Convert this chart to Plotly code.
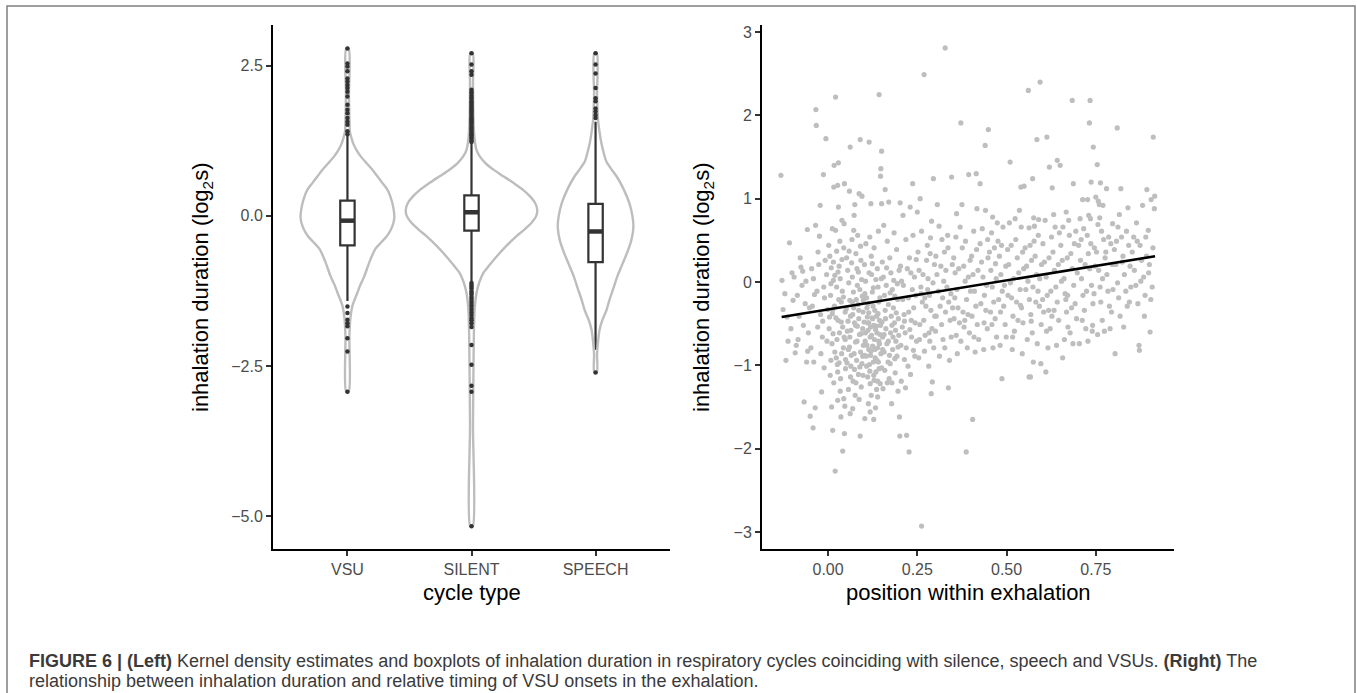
import plotly.graph_objects as go

W, H = 1357, 693

# ---------------- LEFT PANEL DATA ----------------
cycle_types = ["VSU", "SILENT", "SPEECH"]
cat_pos = [1, 2, 3]

# boxplot statistics (inhalation duration, log2 s)
box_q1 = [-0.49, -0.245, -0.77]
box_median = [-0.08, 0.06, -0.26]
box_q3 = [0.255, 0.34, 0.20]
box_lower = [-1.42, -1.09, -2.23]
box_upper = [1.33, 1.20, 1.57]

# outlying points per cycle type
vsu_outliers = [2.79, 2.54, 2.49, 2.41, 2.29, 2.24, 2.18, 2.13, 2.07, 1.99, 1.85, 1.77,
                1.71, 1.63, 1.57, 1.52, 1.41, 1.36, -1.51, -1.62, -1.73, -1.79, -1.84,
                -2.04, -2.26, -2.93]
silent_outliers = [2.71, 2.52, 2.41, 2.35, 2.10, 2.06, 2.02, 1.98, 1.95, 1.91, 1.88, 1.85,
                   1.82, 1.79, 1.76, 1.73, 1.70, 1.67, 1.64, 1.61, 1.59, 1.56, 1.53, 1.50,
                   1.47, 1.45, 1.42, 1.39, 1.36, 1.34, 1.31, 1.28, 1.25, 1.23,
                   -1.12, -1.15, -1.18, -1.21, -1.25, -1.28, -1.31, -1.35, -1.38, -1.42,
                   -1.45, -1.49, -1.53, -1.57, -1.61, -1.65, -1.70, -1.74, -1.79, -1.85,
                   -2.15, -2.48, -2.83, -2.93, -5.17]
speech_outliers = [2.71, 2.52, 2.37, 2.13, 1.96, 1.91, 1.79, 1.74, 1.68, 1.63, -2.61]

# kernel density outlines: y level and half width (in category units)
vsu_violin_y = [2.79, 2.0, 1.6, 1.4, 1.3, 1.2, 1.1, 1.0, 0.88, 0.77, 0.66, 0.55, 0.44,
                0.33, 0.15, -0.03, -0.18, -0.33, -0.44, -0.55, -0.77, -1.0, -1.15, -1.28,
                -1.5, -1.7, -2.0, -2.93]
vsu_violin_hw = [0.010, 0.012, 0.016, 0.020, 0.032, 0.048, 0.072, 0.104, 0.153, 0.201,
                 0.241, 0.281, 0.321, 0.345, 0.369, 0.378, 0.361, 0.321, 0.273, 0.225,
                 0.177, 0.137, 0.104, 0.080, 0.040, 0.024, 0.016, 0.010]
silent_violin_y = [2.71, 2.2, 1.6, 1.3, 1.1, 1.0, 0.88, 0.77, 0.66, 0.55, 0.43, 0.32,
                   0.21, 0.10, 0.0, -0.12, -0.23, -0.34, -0.5, -0.68, -0.82, -0.95, -1.1,
                   -1.29, -1.6, -2.5, -3.5, -5.17]
silent_violin_hw = [0.010, 0.012, 0.016, 0.024, 0.040, 0.064, 0.112, 0.177, 0.257, 0.337,
                    0.418, 0.474, 0.514, 0.530, 0.522, 0.482, 0.426, 0.361, 0.281, 0.201,
                    0.145, 0.096, 0.064, 0.040, 0.024, 0.016, 0.012, 0.010]
speech_violin_y = [2.71, 2.0, 1.6, 1.4, 1.2, 1.0, 0.9, 0.8, 0.66, 0.45, 0.21, 0.0, -0.18,
                   -0.4, -0.6, -0.8, -1.0, -1.2, -1.4, -1.57, -1.73, -1.9, -2.1, -2.3, -2.61]
speech_violin_hw = [0.010, 0.012, 0.020, 0.032, 0.048, 0.072, 0.088, 0.120, 0.169, 0.225,
                    0.273, 0.297, 0.305, 0.289, 0.257, 0.217, 0.177, 0.145, 0.112, 0.088,
                    0.056, 0.032, 0.020, 0.012, 0.010]

# ---------------- RIGHT PANEL DATA ----------------
pos_x = [
    -0.132, -0.118, -0.126, -0.108, -0.104, -0.121, -0.101, -0.112, -0.129, -0.115,
    -0.092, -0.089, -0.084, -0.076, -0.071, -0.067, -0.064, -0.060, -0.058, -0.081,
    -0.073, -0.055, -0.062, -0.086, -0.052, -0.095, -0.069, -0.078, -0.057, -0.098,
    -0.050, -0.036, -0.042, -0.040, -0.034, -0.033, -0.035, -0.022, -0.018, -0.013,
    -0.011, -0.006, -0.046, -0.041, -0.031, -0.026, -0.021, -0.016, -0.048, -0.029,
    -0.008, -0.010, -0.004, -0.044, -0.028, -0.020, -0.038, -0.012, -0.003, -0.024,
    -0.015, -0.001,
    0.010, 0.013, 0.020, 0.036, 0.041, 0.046, 0.044, 0.047, 0.021, 0.017,
    0.029, 0.016, 0.027, 0.046, 0.029, 0.012, 0.021, 0.039, 0.045, 0.005,
    0.009, 0.015, 0.019, 0.024, 0.031, 0.034, 0.040, 0.007, 0.018, 0.028,
    0.037, 0.048, 0.003, 0.011, 0.023, 0.032, 0.043, 0.049, 0.006, 0.016,
    0.026, 0.035, 0.044, 0.033, 0.002, 0.024, 0.014, 0.041, 0.030, 0.008,
    0.048, 0.034, 0.022, 0.038, 0.012, 0.027,
    0.062, 0.060, 0.075, 0.073, 0.087, 0.095, 0.090, 0.069, 0.090, 0.052,
    0.055, 0.058, 0.061, 0.063, 0.066, 0.068, 0.071, 0.072, 0.074, 0.077,
    0.078, 0.081, 0.082, 0.084, 0.086, 0.088, 0.091, 0.092, 0.094, 0.096,
    0.098, 0.054, 0.057, 0.064, 0.070, 0.076, 0.080, 0.085, 0.093, 0.097,
    0.053, 0.067, 0.083, 0.091, 0.099, 0.057, 0.087, 0.072, 0.079, 0.061,
    0.065, 0.089, 0.074, 0.082, 0.095, 0.059, 0.069, 0.085, 0.078, 0.063,
    0.103, 0.128, 0.115, 0.143, 0.150, 0.148, 0.147, 0.120, 0.150, 0.102,
    0.105, 0.108, 0.110, 0.112, 0.114, 0.116, 0.118, 0.121, 0.122, 0.124,
    0.126, 0.128, 0.130, 0.132, 0.134, 0.136, 0.138, 0.140, 0.142, 0.144,
    0.146, 0.148, 0.104, 0.107, 0.113, 0.119, 0.125, 0.131, 0.137, 0.143,
    0.149, 0.106, 0.117, 0.129, 0.141, 0.133, 0.121, 0.111, 0.139, 0.109,
    0.127, 0.145, 0.115, 0.101, 0.123, 0.135, 0.118, 0.129, 0.140, 0.112,
    0.146, 0.124, 0.108, 0.134, 0.119, 0.142, 0.103, 0.127, 0.137, 0.114,
    0.160, 0.170, 0.152, 0.155, 0.158, 0.160, 0.162, 0.165, 0.168, 0.171,
    0.173, 0.176, 0.180, 0.183, 0.186, 0.190, 0.193, 0.196, 0.199, 0.154,
    0.178, 0.188, 0.166, 0.185, 0.195, 0.157, 0.175, 0.192, 0.163, 0.181,
    0.197, 0.151, 0.169, 0.177, 0.184, 0.159, 0.172, 0.189, 0.164, 0.194,
    0.156, 0.179, 0.187, 0.153, 0.174, 0.198,
    0.200, 0.201, 0.220, 0.227, 0.202, 0.210, 0.230, 0.237, 0.250, 0.203,
    0.206, 0.209, 0.213, 0.216, 0.219, 0.224, 0.228, 0.232, 0.236, 0.240,
    0.244, 0.248, 0.205, 0.218, 0.238, 0.226, 0.242, 0.208, 0.246, 0.231,
    0.214, 0.234, 0.222, 0.211, 0.247, 0.239, 0.225, 0.204, 0.233, 0.217,
    0.258, 0.269, 0.262, 0.289, 0.292, 0.295, 0.290, 0.252, 0.255, 0.260,
    0.264, 0.268, 0.272, 0.276, 0.280, 0.284, 0.288, 0.291, 0.296, 0.262,
    0.278, 0.298, 0.254, 0.282, 0.266, 0.286, 0.274, 0.294, 0.257, 0.270,
    0.283, 0.299, 0.261, 0.279, 0.287,
    0.306, 0.311, 0.328, 0.346, 0.337, 0.302, 0.305, 0.309, 0.314, 0.318,
    0.322, 0.326, 0.330, 0.333, 0.338, 0.342, 0.345, 0.319, 0.335, 0.348,
    0.312, 0.340, 0.324, 0.344, 0.316, 0.303, 0.329, 0.349, 0.321, 0.336,
    0.360, 0.375, 0.372, 0.394, 0.387, 0.352, 0.356, 0.361, 0.364, 0.368,
    0.372, 0.376, 0.380, 0.384, 0.388, 0.392, 0.396, 0.358, 0.370, 0.385,
    0.398, 0.362, 0.390, 0.378, 0.355, 0.381, 0.366, 0.393, 0.353, 0.399,
    0.405, 0.415, 0.426, 0.449, 0.440, 0.417, 0.441, 0.402, 0.406, 0.410,
    0.414, 0.418, 0.422, 0.426, 0.430, 0.434, 0.438, 0.442, 0.446, 0.408,
    0.432, 0.448, 0.412, 0.436, 0.420, 0.444, 0.403, 0.428, 0.447, 0.416,
    0.487, 0.461, 0.452, 0.456, 0.460, 0.464, 0.468, 0.472, 0.476, 0.480,
    0.484, 0.488, 0.492, 0.496, 0.458, 0.474, 0.490, 0.498, 0.462, 0.482,
    0.466, 0.494, 0.478, 0.455, 0.471, 0.486, 0.499, 0.469,
    0.510, 0.540, 0.503, 0.506, 0.511, 0.514, 0.518, 0.522, 0.526, 0.530,
    0.534, 0.538, 0.542, 0.546, 0.508, 0.524, 0.541, 0.548, 0.516, 0.544,
    0.532, 0.504, 0.549, 0.536, 0.520, 0.528, 0.513, 0.545,
    0.561, 0.594, 0.585, 0.573, 0.563, 0.567, 0.575, 0.596, 0.576, 0.590,
    0.578, 0.563, 0.552, 0.556, 0.560, 0.564, 0.568, 0.572, 0.577, 0.580,
    0.584, 0.588, 0.592, 0.597, 0.586, 0.558, 0.570, 0.598, 0.582, 0.554,
    0.566, 0.593, 0.574, 0.589,
    0.613, 0.620, 0.650, 0.642, 0.628, 0.610, 0.602, 0.606, 0.611, 0.614,
    0.618, 0.622, 0.626, 0.630, 0.634, 0.638, 0.642, 0.646, 0.608, 0.632,
    0.648, 0.616, 0.640, 0.624, 0.604, 0.636, 0.619, 0.645, 0.627, 0.612,
    0.684, 0.687, 0.667, 0.657, 0.652, 0.656, 0.661, 0.664, 0.668, 0.672,
    0.676, 0.680, 0.684, 0.688, 0.692, 0.696, 0.658, 0.674, 0.694, 0.662,
    0.686, 0.670, 0.698, 0.678, 0.654, 0.690, 0.666, 0.682,
    0.734, 0.732, 0.743, 0.737, 0.713, 0.727, 0.750, 0.706, 0.730, 0.735,
    0.741, 0.740, 0.702, 0.707, 0.710, 0.714, 0.718, 0.722, 0.726, 0.729,
    0.733, 0.738, 0.742, 0.746, 0.704, 0.716, 0.724, 0.748, 0.712, 0.728,
    0.720, 0.745, 0.709, 0.736,
    0.754, 0.763, 0.757, 0.760, 0.770, 0.780, 0.761, 0.756, 0.797, 0.755,
    0.752, 0.758, 0.762, 0.764, 0.768, 0.772, 0.776, 0.781, 0.784, 0.788,
    0.792, 0.796, 0.774, 0.790, 0.766, 0.786, 0.798, 0.778, 0.794, 0.769,
    0.810, 0.820, 0.840, 0.804, 0.802, 0.806, 0.811, 0.814, 0.818, 0.822,
    0.826, 0.830, 0.834, 0.838, 0.842, 0.846, 0.812, 0.828, 0.848, 0.816,
    0.836, 0.824, 0.844, 0.808,
    0.911, 0.893, 0.905, 0.915, 0.881, 0.897, 0.871, 0.872, 0.902, 0.852,
    0.858, 0.862, 0.868, 0.874, 0.878, 0.884, 0.888, 0.892, 0.898, 0.904,
    0.910, 0.856, 0.866, 0.886, 0.900, 0.914, 0.876, 0.864, 0.890, 0.908,
    0.004, 0.013, 0.019, 0.025, 0.031, 0.037, 0.043, 0.049, 0.008, 0.015,
    0.028, 0.039, 0.045, 0.051, 0.056, 0.060, 0.064, 0.068, 0.073, 0.077,
    0.081, 0.086, 0.089, 0.093, 0.097, 0.099, 0.102, 0.105, 0.109, 0.111,
    0.114, 0.117, 0.120, 0.122, 0.125, 0.128, 0.131, 0.133, 0.136, 0.139,
    0.141, 0.144, 0.147, 0.150, 0.153, 0.157, 0.161, 0.166, 0.169, 0.174,
    0.179, 0.182, 0.187, 0.191, 0.196, 0.027, 0.062, 0.098, 0.118, 0.139,
    0.214, 0.229, 0.243, 0.256, 0.271, 0.285, 0.301, 0.327, 0.359, 0.383,
    0.409, 0.437, 0.459, 0.483, 0.517, 0.539, 0.569, 0.601, 0.633, 0.671,
]
dur_y = [
    1.28, -0.94, -0.33, 0.47, -0.56, -0.14, 0.11, -0.71, 0.02, -0.42,
    -0.85, -0.76, -0.69, 0.18, 0.13, -1.44, -0.26, -0.96, 0.63, -0.41,
    -0.04, -0.61, 0.01, -0.16, -0.31, 0.06, -0.52, 0.29, -0.83, -0.22,
    -1.61, -1.51, -1.75, -0.96, 2.07, 1.88, 0.68, 0.92, -1.32, 1.29,
    -1.03, 1.72, 0.16, 0.04, -0.11, 0.21, -0.39, -0.66, -0.79, -0.54,
    0.26, -0.19, 0.09, -0.29, 0.36, -0.86, -0.15, -0.06, -0.71, 0.55,
    -0.47, -0.33,
    -1.50, -1.78, -2.27, -1.62, -2.03, -1.82, -1.40, -1.49, 2.22, 1.40,
    1.43, 1.14, 1.16, 1.18, 0.90, 0.64, 0.62, 0.74, 0.70, 0.31,
    0.17, 0.24, 0.08, -0.06, 0.19, 0.04, -0.11, -0.16, -0.29, -0.46,
    -0.24, -0.36, -0.56, -0.74, -0.91, -0.61, -0.79, -1.04, -1.12, -1.21,
    -0.99, -1.16, 0.41, 0.49, 0.44, 0.37, -0.62, -0.54, -0.21, -0.02,
    -0.69, -1.31, -0.43, -0.86, -0.38, -1.08,
    1.62, 1.09, 0.93, 0.80, 1.06, 1.03, 1.71, -1.52, -1.85, 0.29,
    0.14, -0.01, -0.22, -0.41, 0.23, 0.06, -0.12, -0.31, -0.49, -0.72,
    0.34, 0.16, -0.04, -0.27, -0.44, -0.63, -0.84, 0.26, 0.03, -0.17,
    -0.36, -0.59, -0.81, -1.01, -1.19, -1.36, -0.94, -1.11, -1.26, -0.56,
    -0.97, 0.51, 0.56, 0.43, -0.76, -1.29, -1.41, 0.62, -0.21, -0.66,
    -0.88, -0.09, -1.05, -0.53, -0.98, 0.37, -0.39, 0.12, -1.21, -1.14,
    -1.64, -1.65, 1.68, 2.25, 1.57, 1.36, 1.27, 0.94, 0.94, 0.21,
    0.01, -0.19, -0.42, -0.58, -0.81, -0.99, -1.22, 0.31, 0.09, -0.12,
    -0.29, -0.52, -0.69, -0.91, -1.08, -1.29, 0.16, -0.06, -0.24, -0.46,
    -0.63, -0.86, -0.71, -0.89, -1.46, -0.54, -0.77, -0.34, -0.61, -1.04,
    0.04, 0.46, 0.54, 0.41, 0.61, -1.51, -1.36, -1.14, -0.79, -0.31,
    -0.96, -0.19, 0.11, -0.48, -0.43, -0.53, -0.66, -1.18, -0.38, -0.26,
    -1.22, 0.22, -1.01, 0.03, -0.88, -0.71, -0.14, -0.07, -0.94, -0.49,
    1.11, 0.96, 0.24, 0.06, -0.16, -0.34, -0.56, -0.74, -0.96, -1.16,
    0.29, 0.11, -0.09, -0.31, -0.49, -0.71, -0.89, -1.31, 0.14, -1.28,
    -1.46, -1.09, 0.49, 0.59, -0.21, -0.84, -0.61, 0.39, -0.04, -0.81,
    -0.44, -0.48, -0.27, -0.41, 0.02, -1.06, -0.88, -0.58, 0.17, -0.02,
    0.68, -1.21, -0.17, -0.66, -0.13, -0.64,
    -1.62, -1.85, -1.84, -2.04, 0.95, 0.80, 0.90, 1.18, 0.84, 0.19,
    0.01, -0.21, -0.39, -0.61, -0.79, -1.01, 0.29, 0.11, -0.09, -0.31,
    -0.49, -0.71, -1.19, 0.51, 0.56, -0.36, 0.06, -0.54, -0.16, -1.11,
    -0.93, -0.66, 0.16, -0.04, 0.27, -0.82, -0.19, -0.76, -0.46, -1.27,
    1.00, 2.49, -2.93, -1.34, -1.20, 1.24, 0.73, 0.36, 0.14, -0.06,
    -0.24, -0.46, -0.64, 0.26, 0.04, -0.16, -0.34, -0.56, -0.79, 0.61,
    0.44, 0.21, -0.91, -1.01, 0.09, 0.34, -0.29, -0.01, -0.51, -0.83,
    -0.61, -0.41, -0.14, -0.09, 0.53,
    0.93, 0.67, 2.81, 1.26, -1.27, 0.31, 0.09, -0.11, -0.29, -0.51,
    -0.69, 0.36, 0.14, -0.06, -0.24, -0.46, -0.66, 0.51, 0.56, 0.21,
    -0.89, -0.94, 0.01, -0.14, 0.19, -0.41, -0.36, -0.31, -0.19, 0.41,
    0.82, 0.93, 1.91, 1.29, -2.04, 0.29, 0.11, -0.09, -0.31, -0.49,
    -0.71, 0.41, 0.19, 0.01, -0.21, -0.39, -0.61, 0.54, 0.66, 0.49,
    0.26, -0.86, -0.79, -0.36, -0.19, -0.54, 0.16, 0.06, -0.44, -0.11,
    -1.65, 1.30, 1.18, 1.83, 1.64, 0.88, 0.86, 0.31, 0.09, -0.11,
    -0.29, -0.51, -0.69, 0.46, 0.24, 0.06, -0.16, -0.34, -0.56, 0.61,
    0.64, 0.29, -0.84, -0.81, 0.14, -0.04, -0.41, -0.26, 0.51, 0.39,
    -1.16, 0.78, 0.36, 0.14, -0.06, -0.24, -0.44, -0.66, 0.49, 0.31,
    0.09, -0.11, -0.29, -0.51, 0.59, 0.71, 0.66, 0.19, -0.79, -0.76,
    0.41, -0.04, -0.21, -0.36, 0.04, 0.44, -0.66, 0.22,
    1.44, 1.14, 0.39, 0.21, -0.01, -0.19, -0.41, -0.59, 0.51, 0.29,
    0.11, -0.09, -0.31, -0.49, 0.71, 0.76, 0.66, 0.16, -0.81, -0.86,
    -0.46, -0.16, 1.15, 0.86, 0.04, -0.24, 0.44, 0.36,
    2.30, 2.40, 1.71, 1.24, -1.14, -1.14, -0.96, -0.98, 0.77, 0.75,
    0.67, 0.65, 0.41, 0.19, 0.01, -0.21, -0.39, -0.61, 0.49, 0.31,
    0.09, -0.11, -0.29, -0.51, -0.74, -0.69, 0.26, 0.21, -0.24, -0.09,
    0.44, 0.04, -0.06, 0.56,
    1.74, 1.38, 1.40, 1.46, 1.13, -1.08, 0.46, 0.24, 0.06, -0.16,
    -0.34, -0.56, 0.54, 0.36, 0.14, -0.06, -0.24, -0.46, 0.74, 0.81,
    0.59, -0.79, -0.76, -0.11, -0.36, 0.66, 0.29, 0.21, -0.41, -0.59,
    2.18, 1.18, 0.84, -0.91, 0.44, 0.26, 0.04, -0.14, -0.36, -0.54,
    0.56, 0.34, 0.16, -0.04, -0.26, -0.44, 0.66, 0.74, 0.61, -0.69,
    -0.74, 0.29, 0.11, -0.61, 0.01, 0.46, -0.21, -0.31,
    2.18, 1.91, 1.62, 1.20, 0.99, 0.99, 1.02, 0.76, 0.80, 0.76,
    -0.52, -0.59, 0.44, 0.26, 0.04, -0.16, -0.34, -0.56, 0.56, 0.34,
    0.16, -0.04, -0.26, 0.41, -0.74, 0.64, -0.11, 0.19, -0.46, -0.71,
    0.21, -0.14, 0.51, 0.46,
    1.41, 1.19, 0.97, 0.93, 0.92, 1.12, 0.77, 0.69, 0.70, -0.63,
    0.36, 0.14, -0.06, -0.24, -0.46, 0.51, 0.29, 0.09, -0.11, -0.29,
    0.46, 0.21, -0.59, -0.56, 0.61, 0.54, -0.09, 0.36, -0.36, 0.04,
    1.85, 1.12, 0.89, -0.86, 0.39, 0.21, -0.01, -0.19, -0.41, 0.54,
    0.31, 0.09, -0.11, -0.29, 0.44, 0.19, 0.66, -0.54, -0.06, 0.81,
    0.61, 0.24, -0.24, 0.49,
    1.74, 1.11, 0.99, 1.03, 0.92, 0.62, -0.76, -0.82, -0.60, 0.36,
    0.14, -0.04, -0.26, 0.44, 0.26, 0.06, -0.16, 0.31, 0.11, -0.21,
    0.41, 0.54, 0.49, -0.41, 0.21, 0.88, 0.01, 0.71, 0.54, -0.06,
    -0.42, -0.33, -0.84, -0.69, -0.97, -0.48, -0.18, -0.93, -0.94, 0.02,
    0.12, 0.27, -0.66, -0.32, -0.47, -0.78, -0.58, -0.24, -0.86, -0.52,
    -0.71, -0.34, -1.02, -0.62, -0.89, -0.22, -0.88, -0.61, -0.76, -0.49,
    -0.37, -1.07, -0.83, -0.64, -0.44, -1.12, -0.81, -0.57, -0.41, -1.19,
    -0.96, -0.74, -0.52, -1.03, -0.81, -0.63, -0.44, -1.21, -0.71, -0.98,
    -0.52, -0.66, -0.92, -0.37, -0.78, -1.42, -1.58, -1.12, -1.56, -1.38,
    -0.47, -0.57, -0.89, -0.69, -0.19, -0.71, -0.59, -0.79, -0.64, -0.46,
    -0.66, -0.49, -0.51, -0.36, -0.66, -0.28, -0.47, -0.21, -0.34, -0.16,
]

# fitted linear trend (end points)
fit_x = [-0.13, 0.916]
fit_y = [-0.42, 0.31]

# ---------------- STYLE ----------------
VIOLIN_GREY = "#bdbdbd"
DARK = "#333333"
POINT_GREY = "#bebebe"
FONT = "Liberation Sans, Arial, Helvetica, sans-serif"

fig = go.Figure()

violins = [
    (vsu_violin_y, vsu_violin_hw),
    (silent_violin_y, silent_violin_hw),
    (speech_violin_y, speech_violin_hw),
]
for c, (vy, vhw) in zip(cat_pos, violins):
    xs = [c + w for w in vhw] + [c - w for w in reversed(vhw)] + [c + vhw[0]]
    ys = list(vy) + list(reversed(vy)) + [vy[0]]
    fig.add_trace(go.Scatter(x=xs, y=ys, mode="lines",
                             line=dict(color=VIOLIN_GREY, width=2.4, shape="spline", smoothing=0.8),
                             hoverinfo="skip", xaxis="x", yaxis="y"))

for i, c in enumerate(cat_pos):
    fig.add_trace(go.Box(x=[c], q1=[box_q1[i]], median=[box_median[i]], q3=[box_q3[i]],
                         lowerfence=[box_lower[i]], upperfence=[box_upper[i]],
                         width=0.116, whiskerwidth=0, fillcolor="white",
                         line=dict(color=DARK, width=2.2), boxpoints=False,
                         xaxis="x", yaxis="y"))
    fig.add_trace(go.Scatter(x=[c - 0.058, c + 0.058], y=[box_median[i]] * 2, mode="lines",
                             line=dict(color=DARK, width=4.5), hoverinfo="skip",
                             xaxis="x", yaxis="y"))

for c, outs in zip(cat_pos, [vsu_outliers, silent_outliers, speech_outliers]):
    fig.add_trace(go.Scatter(x=[c] * len(outs), y=outs, mode="markers",
                             marker=dict(color=DARK, size=4.5), hoverinfo="skip",
                             xaxis="x", yaxis="y"))

n = min(len(pos_x), len(dur_y))
fig.add_trace(go.Scatter(x=pos_x[:n], y=dur_y[:n], mode="markers",
                         marker=dict(color=POINT_GREY, size=5.2, line=dict(width=0)),
                         xaxis="x2", yaxis="y2"))
fig.add_trace(go.Scatter(x=fit_x, y=fit_y, mode="lines",
                         line=dict(color="black", width=2.6), xaxis="x2", yaxis="y2"))

ydom = [1 - 549 / H, 1 - 25 / H]
axis_common = dict(showline=True, linecolor="black", linewidth=2, ticks="outside",
                   ticklen=5, tickwidth=1.5, tickcolor=DARK, showgrid=False, zeroline=False,
                   tickfont=dict(family=FONT, size=16, color="#4d4d4d"))

fig.update_layout(
    width=W, height=H, margin=dict(l=0, r=0, t=0, b=0),
    paper_bgcolor="white", plot_bgcolor="white", showlegend=False,
    font=dict(family=FONT),
    xaxis=dict(domain=[273 / W, 670 / W], range=[0.4, 3.6], tickvals=cat_pos,
               ticktext=cycle_types, anchor="y", **axis_common),
    yaxis=dict(domain=ydom, range=[-5.55, 3.18], tickvals=[-5, -2.5, 0, 2.5],
               tickformat=".1f", anchor="x", **axis_common),
    xaxis2=dict(domain=[762 / W, 1174 / W], range=[-0.185, 0.969],
                tickvals=[0, 0.25, 0.5, 0.75], tickformat=".2f", anchor="y2", **axis_common),
    yaxis2=dict(domain=ydom, range=[-3.205, 3.085], tickvals=[-3, -2, -1, 0, 1, 2, 3],
                anchor="x2", **axis_common),
)

title_font = dict(family=FONT, size=22, color="black")
cap_font = dict(family=FONT, size=18, color="#3a3a3a")
ann = [
    dict(text="cycle type", x=471.5 / W, y=1 - 592 / H, font=title_font),
    dict(text="position within exhalation", x=968 / W, y=1 - 592 / H, font=title_font),
    dict(text="inhalation duration (log<sub>2</sub>s)", x=202 / W, y=1 - 287 / H,
         textangle=-90, font=title_font),
    dict(text="inhalation duration (log<sub>2</sub>s)", x=703 / W, y=1 - 287 / H,
         textangle=-90, font=title_font),
    dict(text="<b>FIGURE 6 | (Left)</b> Kernel density estimates and boxplots of inhalation "
              "duration in respiratory cycles coinciding with silence, speech and VSUs. "
              "<b>(Right)</b> The",
         x=27 / W, y=1 - 661 / H, xanchor="left", font=cap_font),
    dict(text="relationship between inhalation duration and relative timing of VSU onsets in "
              "the exhalation.",
         x=27 / W, y=1 - 681 / H, xanchor="left", font=cap_font),
]
for a in ann:
    a.setdefault("xanchor", "center")
    a.setdefault("yanchor", "middle")
    a.update(xref="paper", yref="paper", showarrow=False)
fig.update_layout(annotations=ann)

fig.add_shape(type="rect", xref="paper", yref="paper", x0=7 / W, x1=1355 / W,
              y0=-0.05, y1=1 - 6 / H, line=dict(color="#7f7f7f", width=1.5),
              fillcolor="rgba(0,0,0,0)", layer="below")

fig.write_html("out.html", config={"displayModeBar": False},
               post_script="document.body.style.margin='0px';"
                           "document.body.style.overflow='hidden';")
